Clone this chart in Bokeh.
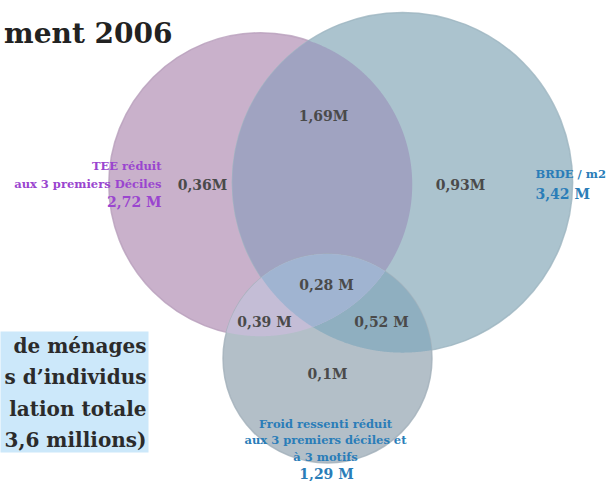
import numpy as np
from bokeh.plotting import figure
from bokeh.models import Range1d, ColumnDataSource
from bokeh.core.properties import value
from bokeh.embed import file_html
from bokeh.resources import INLINE

# ---- data ----
set_names = ["TEE", "BRDE", "Froid"]
set_label_lines = [
    ["TEE réduit", "aux 3 premiers Déciles"],
    ["BRDE / m2"],
    ["Froid ressenti réduit", "aux 3 premiers déciles et", "à 3 motifs"],
]
set_totals = [2.72, 3.42, 1.29]
set_total_labels = ["2,72 M", "3,42 M", "1,29 M"]

region_keys = ["TEE", "TEE&BRDE", "BRDE", "TEE&Froid", "TEE&BRDE&Froid", "BRDE&Froid", "Froid"]
region_values = [0.36, 1.69, 0.93, 0.39, 0.28, 0.52, 0.10]
region_labels = ["0,36M", "1,69M", "0,93M", "0,39 M", "0,28 M", "0,52 M", "0,1M"]

title_text = "ment 2006"
box_lines = ["de ménages", "s d’individus", "lation totale", "3,6 millions)"]

# ---- layout (pixels) ----
W, H = 609, 481
K = 92.0  # px per sqrt(M) -> area-proportional circles
centers = {"TEE": (260, 184), "BRDE": (402, 182), "Froid": (327, 358)}
radii = {n: K * np.sqrt(v) for n, v in zip(set_names, set_totals)}

region_pos = {
    "TEE": (202, 184), "TEE&BRDE": (323, 115), "BRDE": (460, 184),
    "TEE&Froid": (264, 321), "TEE&BRDE&Froid": (326, 284),
    "BRDE&Froid": (381, 321), "Froid": (327, 373),
}

p = figure(width=W, height=H, x_range=Range1d(0, W), y_range=Range1d(H, 0),
           toolbar_location=None, output_backend="svg", min_border=0)
p.axis.visible = False
p.grid.visible = False
p.outline_line_color = None
p.background_fill_color = "white"
p.border_fill_color = "white"


def region_poly(names, n=1440):
    xs, ys = [], []
    th = np.linspace(0, 2 * np.pi, n, endpoint=False)
    for nm in names:
        cx, cy = centers[nm]
        r = radii[nm]
        x = cx + r * np.cos(th)
        y = cy + r * np.sin(th)
        m = np.ones_like(x, dtype=bool)
        for o in names:
            if o == nm:
                continue
            ox, oy = centers[o]
            m &= (x - ox) ** 2 + (y - oy) ** 2 <= radii[o] ** 2
        xs.append(x[m]); ys.append(y[m])
    x = np.concatenate(xs); y = np.concatenate(ys)
    mx, my = x.mean(), y.mean()
    order = np.argsort(np.arctan2(y - my, x - mx))
    return list(x[order]), list(y[order])


colors = {
    "TEE": "#C9B1CB", "BRDE": "#ABC3CE", "Froid": "#B3BFC8",
    "TEE&BRDE": "#A0A3C1", "BRDE&Froid": "#8FAFC0", "TEE&Froid": "#C4BDD6",
    "TEE&BRDE&Froid": "#A0B4D1",
}
edge = {"TEE": "#B89FBB", "BRDE": "#9DB5C1", "Froid": "#A3B0BA"}

# layered fills
for nm in ["TEE", "BRDE"]:
    cx, cy = centers[nm]
    p.circle(x=[cx], y=[cy], radius=radii[nm], fill_color=colors[nm],
             line_color=edge[nm], line_width=1.5, line_alpha=0.8)
xs, ys = region_poly(["TEE", "BRDE"])
p.patch(xs, ys, fill_color=colors["TEE&BRDE"], line_color=None)
cx, cy = centers["Froid"]
p.circle(x=[cx], y=[cy], radius=radii["Froid"], fill_color=colors["Froid"],
         line_color=edge["Froid"], line_width=1.5, line_alpha=0.8)
for key, nms in [("BRDE&Froid", ["BRDE", "Froid"]), ("TEE&Froid", ["TEE", "Froid"]),
                 ("TEE&BRDE&Froid", ["TEE", "BRDE", "Froid"])]:
    xs, ys = region_poly(nms)
    p.patch(xs, ys, fill_color=colors[key], line_color=None)

# region labels
src = ColumnDataSource(dict(
    x=[region_pos[k][0] for k in region_keys],
    y=[region_pos[k][1] for k in region_keys],
    t=region_labels))
p.text(x="x", y="y", text="t", source=src, text_font=value("DejaVu Serif"),
       text_font_style="bold", text_font_size="14px", text_color="#4a4a4a",
       text_align="center", text_baseline="middle")

SERIF = value("DejaVu Serif")
purple = "#9A45CF"
blue = "#2A7DB8"
SMALL = "11.5px"

# TEE label (right aligned)
tee_y = [165, 183]
for line, yy in zip(set_label_lines[0], tee_y):
    p.text(x=[161], y=[yy], text=[line], text_font=SERIF, text_font_style="bold",
           text_font_size=SMALL, text_color=purple, text_align="right", text_baseline="middle")
p.text(x=[161], y=[201], text=[set_total_labels[0]], text_font=SERIF, text_font_style="bold",
       text_font_size="14px", text_color=purple, text_align="right", text_baseline="middle")

# BRDE label (left aligned)
p.text(x=[535], y=[173], text=[set_label_lines[1][0]], text_font=SERIF, text_font_style="bold",
       text_font_size=SMALL, text_color=blue, text_align="left", text_baseline="middle")
p.text(x=[535], y=[193], text=[set_total_labels[1]], text_font=SERIF, text_font_style="bold",
       text_font_size="14px", text_color=blue, text_align="left", text_baseline="middle")

# Froid label (centered)
fr_y = [423, 439, 456]
for line, yy in zip(set_label_lines[2], fr_y):
    p.text(x=[325], y=[yy], text=[line], text_font=SERIF, text_font_style="bold",
           text_font_size=SMALL, text_color=blue, text_align="center", text_baseline="middle")
p.text(x=[326], y=[473], text=[set_total_labels[2]], text_font=SERIF, text_font_style="bold",
       text_font_size="14px", text_color=blue, text_align="center", text_baseline="middle")

# title fragment
p.text(x=[172], y=[33], text=[title_text], text_font=SERIF, text_font_style="bold",
       text_font_size="28px", text_color="#222222", text_align="right", text_baseline="middle")

# left info box
p.quad(left=[-5], right=[148], top=[331], bottom=[452], fill_color="#CCE8FA", line_color=None)
for i, line in enumerate(box_lines):
    p.text(x=[146], y=[345 + 31.5 * i], text=[line], text_font=SERIF, text_font_style="bold",
           text_font_size="20px", text_color="#2b2b2b", text_align="right", text_baseline="middle")

open("out.html", "w").write(file_html(p, INLINE))
